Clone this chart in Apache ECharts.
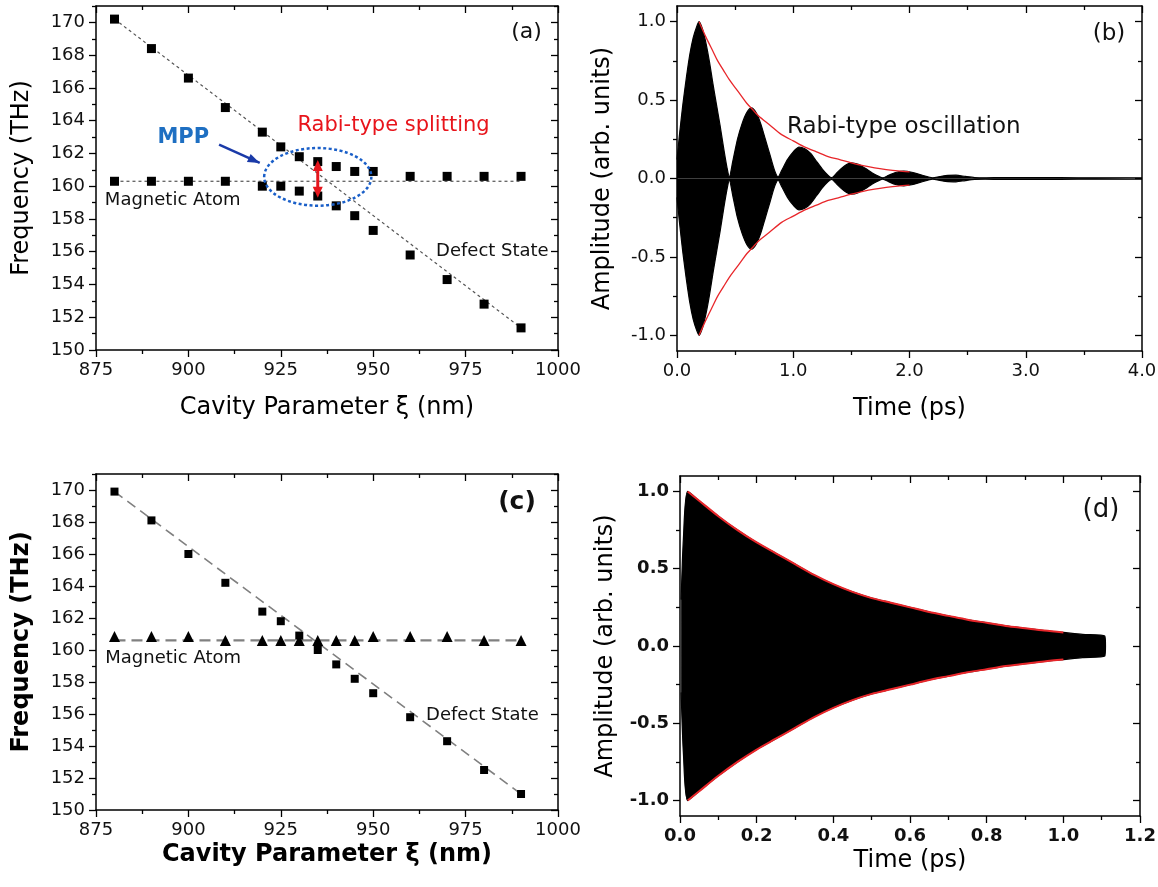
<!DOCTYPE html>
<html><head><meta charset="utf-8">
<script src="https://cdn.jsdelivr.net/npm/echarts@6/dist/echarts.min.js"></script>
<style>html,body{margin:0;padding:0;background:#fff}#c{width:1158px;height:887px}</style>
</head><body><div id="c"></div>
<script>
// ---------------- DATA ----------------
const cavityX = [880,890,900,910,920,925,930,935,940,945,950,960,970,980,990];
// panel (a): two branches of square markers
const aBranchUpper = [170.2,168.4,166.6,164.8,163.3,162.4,161.8,161.5,161.2,160.9,160.9,160.6,160.6,160.6,160.6];
const aBranchLower = [160.3,160.3,160.3,160.3,160.0,160.0,159.7,159.4,158.8,158.2,157.3,155.8,154.3,152.8,151.35];
const aGuideAtom   = [[880,160.3],[990,160.3]];
const aGuideDefect = [[880,170.2],[990,151.35]];
// panel (c)
const cDefect = [169.9,168.1,166.0,164.2,162.4,161.8,160.9,160.0,159.1,158.2,157.3,155.8,154.3,152.5,151.0];
const cAtom   = [160.85,160.85,160.85,160.6,160.6,160.6,160.6,160.6,160.6,160.6,160.85,160.85,160.85,160.6,160.6];
const cGuideAtom   = [[880,160.6],[990,160.6]];
const cGuideDefect = [[880,169.9],[990,151.0]];
// panel (b): envelope of the fast oscillation (upper / lower)
const bTime  = [0.00,0.02,0.05,0.08,0.11,0.14,0.17,0.19,0.22,0.25,0.28,0.31,0.34,0.37,0.40,0.43,0.45,
                0.48,0.52,0.56,0.60,0.64,0.68,0.72,0.76,0.80,0.84,0.87,
                0.90,0.95,1.00,1.05,1.10,1.15,1.20,1.25,1.30,1.33,
                1.38,1.44,1.50,1.56,1.62,1.68,1.74,1.77,
                1.82,1.88,1.95,2.02,2.09,2.16,2.20,
                2.26,2.33,2.40,2.48,2.56,2.65,2.80,3.00,3.30,3.60,4.00];
const bUpper = [0.12,0.27,0.47,0.64,0.79,0.90,0.97,1.00,0.95,0.86,0.74,0.60,0.47,0.34,0.20,0.07,0.01,
                0.11,0.25,0.35,0.42,0.45,0.42,0.35,0.25,0.15,0.05,0.01,
                0.05,0.12,0.17,0.20,0.19,0.16,0.11,0.06,0.02,0.005,
                0.04,0.08,0.10,0.09,0.065,0.035,0.012,0.004,
                0.02,0.038,0.047,0.04,0.025,0.01,0.004,
                0.012,0.02,0.021,0.013,0.006,0.004,0.006,0.005,0.005,0.004,0.004];
const bLower = [-0.12,-0.27,-0.47,-0.64,-0.79,-0.90,-0.97,-1.00,-0.95,-0.86,-0.74,-0.60,-0.47,-0.34,-0.20,-0.07,-0.01,
                -0.11,-0.25,-0.35,-0.42,-0.45,-0.42,-0.35,-0.25,-0.15,-0.05,-0.01,
                -0.05,-0.12,-0.17,-0.20,-0.19,-0.16,-0.11,-0.06,-0.02,-0.005,
                -0.04,-0.08,-0.10,-0.09,-0.065,-0.035,-0.012,-0.004,
                -0.02,-0.038,-0.047,-0.04,-0.025,-0.01,-0.004,
                -0.012,-0.02,-0.021,-0.013,-0.006,-0.004,-0.006,-0.005,-0.005,-0.004,-0.004];
// panel (b): red decay envelope
const bRedTime = [0.19,0.25,0.31,0.35,0.40,0.45,0.50,0.55,0.60,0.65,0.70,0.80,0.90,1.00,1.10,1.20,1.30,1.40,1.50,1.60,1.70,1.80,1.90,2.00];
const bRedUp   = [1.00,0.90,0.81,0.75,0.69,0.63,0.58,0.53,0.48,0.44,0.40,0.34,0.28,0.24,0.20,0.17,0.14,0.12,0.10,0.082,0.068,0.057,0.048,0.042];
const bRedDown = [-1.00,-0.90,-0.81,-0.75,-0.69,-0.63,-0.58,-0.53,-0.48,-0.44,-0.40,-0.34,-0.28,-0.24,-0.20,-0.17,-0.14,-0.12,-0.10,-0.082,-0.068,-0.057,-0.048,-0.042];
// panel (d): envelope of oscillation
const dTime  = [0.003,0.009,0.02,0.05,0.10,0.15,0.20,0.25,0.30,0.35,0.40,0.45,0.50,0.55,0.60,0.65,0.70,0.75,0.80,0.85,0.90,0.95,1.00,1.05,1.108,1.11];
const dUpper = [0.30,0.70,1.00,0.94,0.84,0.75,0.67,0.60,0.53,0.46,0.40,0.35,0.31,0.28,0.25,0.22,0.195,0.17,0.15,0.13,0.115,0.10,0.088,0.075,0.065,0.0];
const dLower = [-0.30,-0.70,-1.00,-0.94,-0.84,-0.75,-0.67,-0.60,-0.53,-0.46,-0.40,-0.35,-0.31,-0.28,-0.25,-0.22,-0.195,-0.17,-0.15,-0.13,-0.115,-0.10,-0.088,-0.075,-0.065,0.0];
const dRedTime = [0.02,0.05,0.10,0.15,0.20,0.25,0.30,0.35,0.40,0.45,0.50,0.55,0.60,0.65,0.70,0.75,0.80,0.85,0.90,0.95,1.00];
const dRedUp   = [1.00,0.94,0.84,0.75,0.67,0.60,0.53,0.46,0.40,0.35,0.31,0.28,0.25,0.22,0.195,0.17,0.15,0.13,0.115,0.10,0.088];
const dRedDown = [-1.00,-0.94,-0.84,-0.75,-0.67,-0.60,-0.53,-0.46,-0.40,-0.35,-0.31,-0.28,-0.25,-0.22,-0.195,-0.17,-0.15,-0.13,-0.115,-0.10,-0.088];
// tick values
const cavTicks   = [875,900,925,950,975,1000];
const cavMinor   = [887.5,912.5,937.5,962.5,987.5];
const freqTicks  = [150,152,154,156,158,160,162,164,166,168,170];
const freqMinor  = [151,153,155,157,159,161,163,165,167,169,171];
const bTimeTicks = [0,1,2,3,4];
const bTimeMinor = [0.5,1.5,2.5,3.5];
const dTimeTicks = [0,0.2,0.4,0.6,0.8,1.0,1.2];
const dTimeMinor = [0.1,0.3,0.5,0.7,0.9,1.1];
const ampTicks   = [-1,-0.5,0,0.5,1];
const ampMinor   = [-0.75,-0.25,0.25,0.75];

// ---------------- CHART ----------------
const FONT = 'DejaVu Sans';
const chart = echarts.init(document.getElementById('c'), null, {renderer:'canvas'});
const zip = (xs, ys) => xs.map((x,i)=>[x, ys[i]]);
const f1 = v => Number(v).toFixed(1);
const f0 = v => String(Math.round(v));

function axisSet(gi, dim, min, max, majors, minors, fmt, labelStyle, name, nameStyle, nameGap) {
  const mainPos = dim === 'x' ? 'bottom' : 'left';
  const oppPos = dim === 'x' ? 'top' : 'right';
  const base = (position, lineShow, ticks, inside, len, withLabel) => ({
    type: 'value', gridIndex: gi, min, max, position,
    axisLine: {show: lineShow, onZero: false, lineStyle: {color: '#000', width: 1.5}},
    axisTick: {show: true, customValues: ticks, inside, length: len, lineStyle: {color: '#000', width: 1.3}},
    axisLabel: withLabel ? Object.assign({show: true, customValues: majors, formatter: fmt, margin: 11,
      fontFamily: FONT, fontSize: 18, color: '#111'}, labelStyle) : {show: false},
    splitLine: {show: false}, minorTick: {show: false}, minorSplitLine: {show: false}
  });
  const a = base(mainPos, true, majors, false, 7, true);
  if (name) {
    a.name = name; a.nameLocation = 'middle'; a.nameGap = nameGap;
    a.nameTextStyle = Object.assign({fontFamily: FONT, fontSize: 24, color: '#000'}, nameStyle);
    if (dim === 'y') a.nameRotate = 90;
  }
  return [a, base(mainPos, false, minors, false, 4, false),
          base(oppPos, true, majors, true, 7, false), base(oppPos, false, minors, true, 4, false)];
}

const grids = [
  {left: 96,  top: 6,   width: 462, height: 344},
  {left: 677, top: 6,   width: 465, height: 345},
  {left: 96,  top: 474, width: 462, height: 336},
  {left: 680, top: 476, width: 460, height: 340}
].map(g => Object.assign({outerBoundsMode: 'none', containLabel: false}, g));

const xAxes = [].concat(
  axisSet(0,'x',875,1000,cavTicks,cavMinor,f0,{},'Cavity Parameter ξ (nm)',{},46),
  axisSet(1,'x',0,4,bTimeTicks,bTimeMinor,f1,{},'Time (ps)',{},46),
  axisSet(2,'x',875,1000,cavTicks,cavMinor,f0,{},'Cavity Parameter ξ (nm)',{fontWeight:'bold'},33),
  axisSet(3,'x',0,1.2,dTimeTicks,dTimeMinor,f1,{fontWeight:'bold'},'Time (ps)',{},33)
);
const yAxes = [].concat(
  axisSet(0,'y',150,171,freqTicks,freqMinor,f0,{},'Frequency (THz)',{},62),
  axisSet(1,'y',-1.1,1.1,ampTicks,ampMinor,f1,{},'Amplitude (arb. units)',{},62),
  axisSet(2,'y',150,171,freqTicks,freqMinor,f0,{},'Frequency (THz)',{fontWeight:'bold'},62),
  axisSet(3,'y',-1.1,1.1,ampTicks,ampMinor,f1,{fontWeight:'bold'},'Amplitude (arb. units)',{},62)
);

function ax(gi){ return {xAxisIndex: gi*4, yAxisIndex: gi*4}; }
function guide(gi, data, style){ return Object.assign({type:'line', data, symbol:'none', silent:true, z:1,
  lineStyle: style}, ax(gi)); }
function pts(gi, data, symbol, size){ return Object.assign({type:'scatter', data, symbol, symbolSize:size,
  itemStyle:{color:'#000', opacity:1}, z:3, silent:true}, ax(gi)); }
function fill(gi, data){ return Object.assign({type:'line', data, symbol:'none', silent:true, z:2, smooth:0.25,
  lineStyle:{color:'#000', width:1.2}, areaStyle:{color:'#000', opacity:1, origin:0}}, ax(gi)); }
function red(gi, data, w){ return Object.assign({type:'line', data, symbol:'none', silent:true, z:4, smooth:0.3,
  lineStyle:{color:'#e8262a', width:w}}, ax(gi)); }

const series = [
  guide(0, aGuideAtom, {color:'#555', width:1.2, type:[3,3]}),
  guide(0, aGuideDefect, {color:'#555', width:1.2, type:[3,3]}),
  pts(0, zip(cavityX, aBranchUpper), 'rect', 9),
  pts(0, zip(cavityX, aBranchLower), 'rect', 9),
  fill(1, zip(bTime, bUpper)), fill(1, zip(bTime, bLower)),
  red(1, zip(bRedTime, bRedUp), 1.3), red(1, zip(bRedTime, bRedDown), 1.3),
  guide(2, cGuideAtom, {color:'#808080', width:2.2, type:[11,6]}),
  guide(2, cGuideDefect, {color:'#808080', width:1.6, type:[10,6]}),
  pts(2, zip(cavityX, cDefect), 'rect', 8),
  pts(2, zip(cavityX, cAtom), 'triangle', 11),
  fill(3, zip(dTime, dUpper)), fill(3, zip(dTime, dLower)),
  red(3, zip(dRedTime, dRedUp), 2), red(3, zip(dRedTime, dRedDown), 2)
];

chart.setOption({animation:false, backgroundColor:'#fff', grid:grids, xAxis:xAxes, yAxis:yAxes, series});

// ---------------- ANNOTATIONS ----------------
const P = (gi, x, y) => chart.convertToPixel(ax(gi), [x, y]);
function txt(gi, x, y, text, font, color, align){
  const p = P(gi, x, y);
  return {type:'text', x:p[0], y:p[1], z:10, silent:true,
    style:{text, font, fill:color, align:align||'center', textAlign:align||'center',
           verticalAlign:'middle', textVerticalAlign:'middle'}};
}
function head(tip, from, len, wid, color){
  const dx = tip[0]-from[0], dy = tip[1]-from[1], d = Math.hypot(dx, dy), ux = dx/d, uy = dy/d;
  const bx = tip[0]-ux*len, by = tip[1]-uy*len;
  return {type:'polygon', z:11, silent:true, shape:{points:[tip,[bx-uy*wid/2, by+ux*wid/2],[bx+uy*wid/2, by-ux*wid/2]]},
    style:{fill:color}};
}
const g = [];
// (a)
const ec = P(0, 935, 160.57), ex = P(0, 949.5, 160.57), ey = P(0, 935, 162.33);
g.push({type:'ellipse', z:9, silent:true, shape:{cx:ec[0], cy:ec[1], rx:Math.abs(ex[0]-ec[0]), ry:Math.abs(ey[1]-ec[1])},
  style:{fill:'none', stroke:'#1a5fc8', lineWidth:2.5, lineDash:[3,2.5]}});
const m0 = P(0, 908.3, 162.54), m1 = P(0, 919.3, 161.42);
g.push({type:'line', z:10, silent:true, shape:{x1:m0[0], y1:m0[1], x2:m1[0], y2:m1[1]}, style:{stroke:'#1a3aa8', lineWidth:2.5}});
g.push(head(m1, m0, 12, 9, '#1a3aa8'));
const r0 = P(0, 935, 161.6), r1 = P(0, 935, 159.3);
g.push({type:'line', z:10, silent:true, shape:{x1:r0[0], y1:r0[1]+8, x2:r1[0], y2:r1[1]-8}, style:{stroke:'#e5161d', lineWidth:3}});
g.push(head(r0, r1, 11, 10, '#e5161d'));
g.push(head(r1, r0, 11, 10, '#e5161d'));
g.push(txt(0, 991.5, 169.4, '(a)', '22px ' + FONT, '#111'));
g.push(txt(0, 955.5, 163.7, 'Rabi-type splitting', '21px ' + FONT, '#e8141b'));
g.push(txt(0, 898.6, 163.0, 'MPP', 'bold 21px ' + FONT, '#1e6fc2'));
g.push(txt(0, 877.4, 159.12, 'Magnetic Atom', '18px ' + FONT, '#111', 'left'));
g.push(txt(0, 967, 156.03, 'Defect State', '18px ' + FONT, '#111', 'left'));
// (b)
g.push(txt(1, 3.716, 0.92, '(b)', '23px ' + FONT, '#111'));
g.push(txt(1, 0.946, 0.33, 'Rabi-type oscillation', '23px ' + FONT, '#111', 'left'));
// (c)
g.push(txt(2, 988.9, 169.25, '(c)', 'bold 25px ' + FONT, '#111'));
g.push(txt(2, 877.5, 159.5, 'Magnetic Atom', '18px ' + FONT, '#111', 'left'));
g.push(txt(2, 964.3, 155.9, 'Defect State', '18px ' + FONT, '#111', 'left'));
// (d)
g.push(txt(3, 1.098, 0.877, '(d)', '26px ' + FONT, '#111'));
chart.setOption({graphic: g});
</script>
</body></html>
